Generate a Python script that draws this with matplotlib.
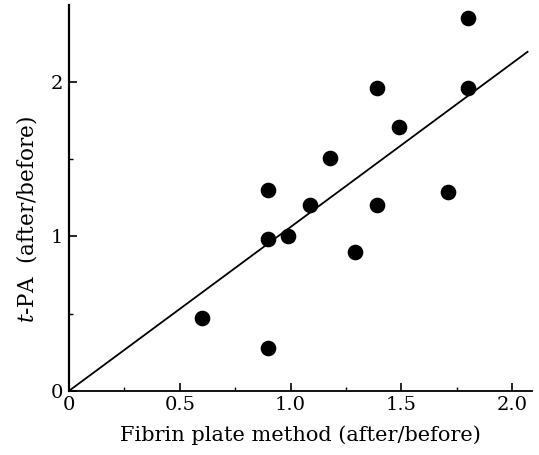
import matplotlib
matplotlib.use('Agg')
import matplotlib.pyplot as plt
import numpy as np

# fibrin plate ratio vs t-PA ratio
fibrin = [0.60, 0.90, 0.90, 0.90, 0.99, 1.09, 1.18, 1.29, 1.39, 1.39, 1.49, 1.71, 1.80, 1.80]
tpa = [0.47, 0.28, 0.98, 1.30, 1.00, 1.20, 1.51, 0.90, 1.96, 1.20, 1.71, 1.29, 1.96, 2.41]

fit_slope = 1.06
fit_x = [0.0, 2.07]

x_ticks = [0, 0.5, 1.0, 1.5, 2.0]
x_labels = ['0', '0.5', '1.0', '1.5', '2.0']
y_ticks = [0, 1, 2]

plt.rcParams['font.family'] = ['DejaVu Serif']
plt.rcParams['mathtext.fontset'] = 'dejavuserif'

fig = plt.figure(figsize=(5.39, 4.55), dpi=100)
ax = fig.add_axes([0.128, 0.141, 0.859, 0.849])

ax.scatter(fibrin, tpa, s=105, color='black', zorder=3)
ax.plot(fit_x, [fit_slope * v for v in fit_x], color='black', lw=1.3)

ax.set_xlim(0, 2.09)
ax.set_ylim(0, 2.5)
ax.spines['top'].set_visible(False)
ax.spines['right'].set_visible(False)
ax.spines['left'].set_linewidth(1.6)
ax.spines['bottom'].set_linewidth(1.3)

ax.set_xticks(x_ticks)
ax.set_xticklabels(x_labels)
ax.set_yticks(y_ticks)
ax.set_xticks([0.25, 0.75, 1.25, 1.75], minor=True)
ax.set_yticks([0.5, 1.5], minor=True)
ax.tick_params(which='major', direction='in', length=6, width=1.2, labelsize=14, pad=4)
ax.tick_params(which='minor', direction='in', length=3, width=1.0)

ax.set_xlabel('Fibrin plate method (after/before)', fontsize=15, labelpad=8)
ax.set_ylabel(r'$\it{t}$-PA  (after/before)', fontsize=15.5)
ax.yaxis.set_label_coords(-0.064, 0.443)

fig.savefig('out.png', dpi=100)
